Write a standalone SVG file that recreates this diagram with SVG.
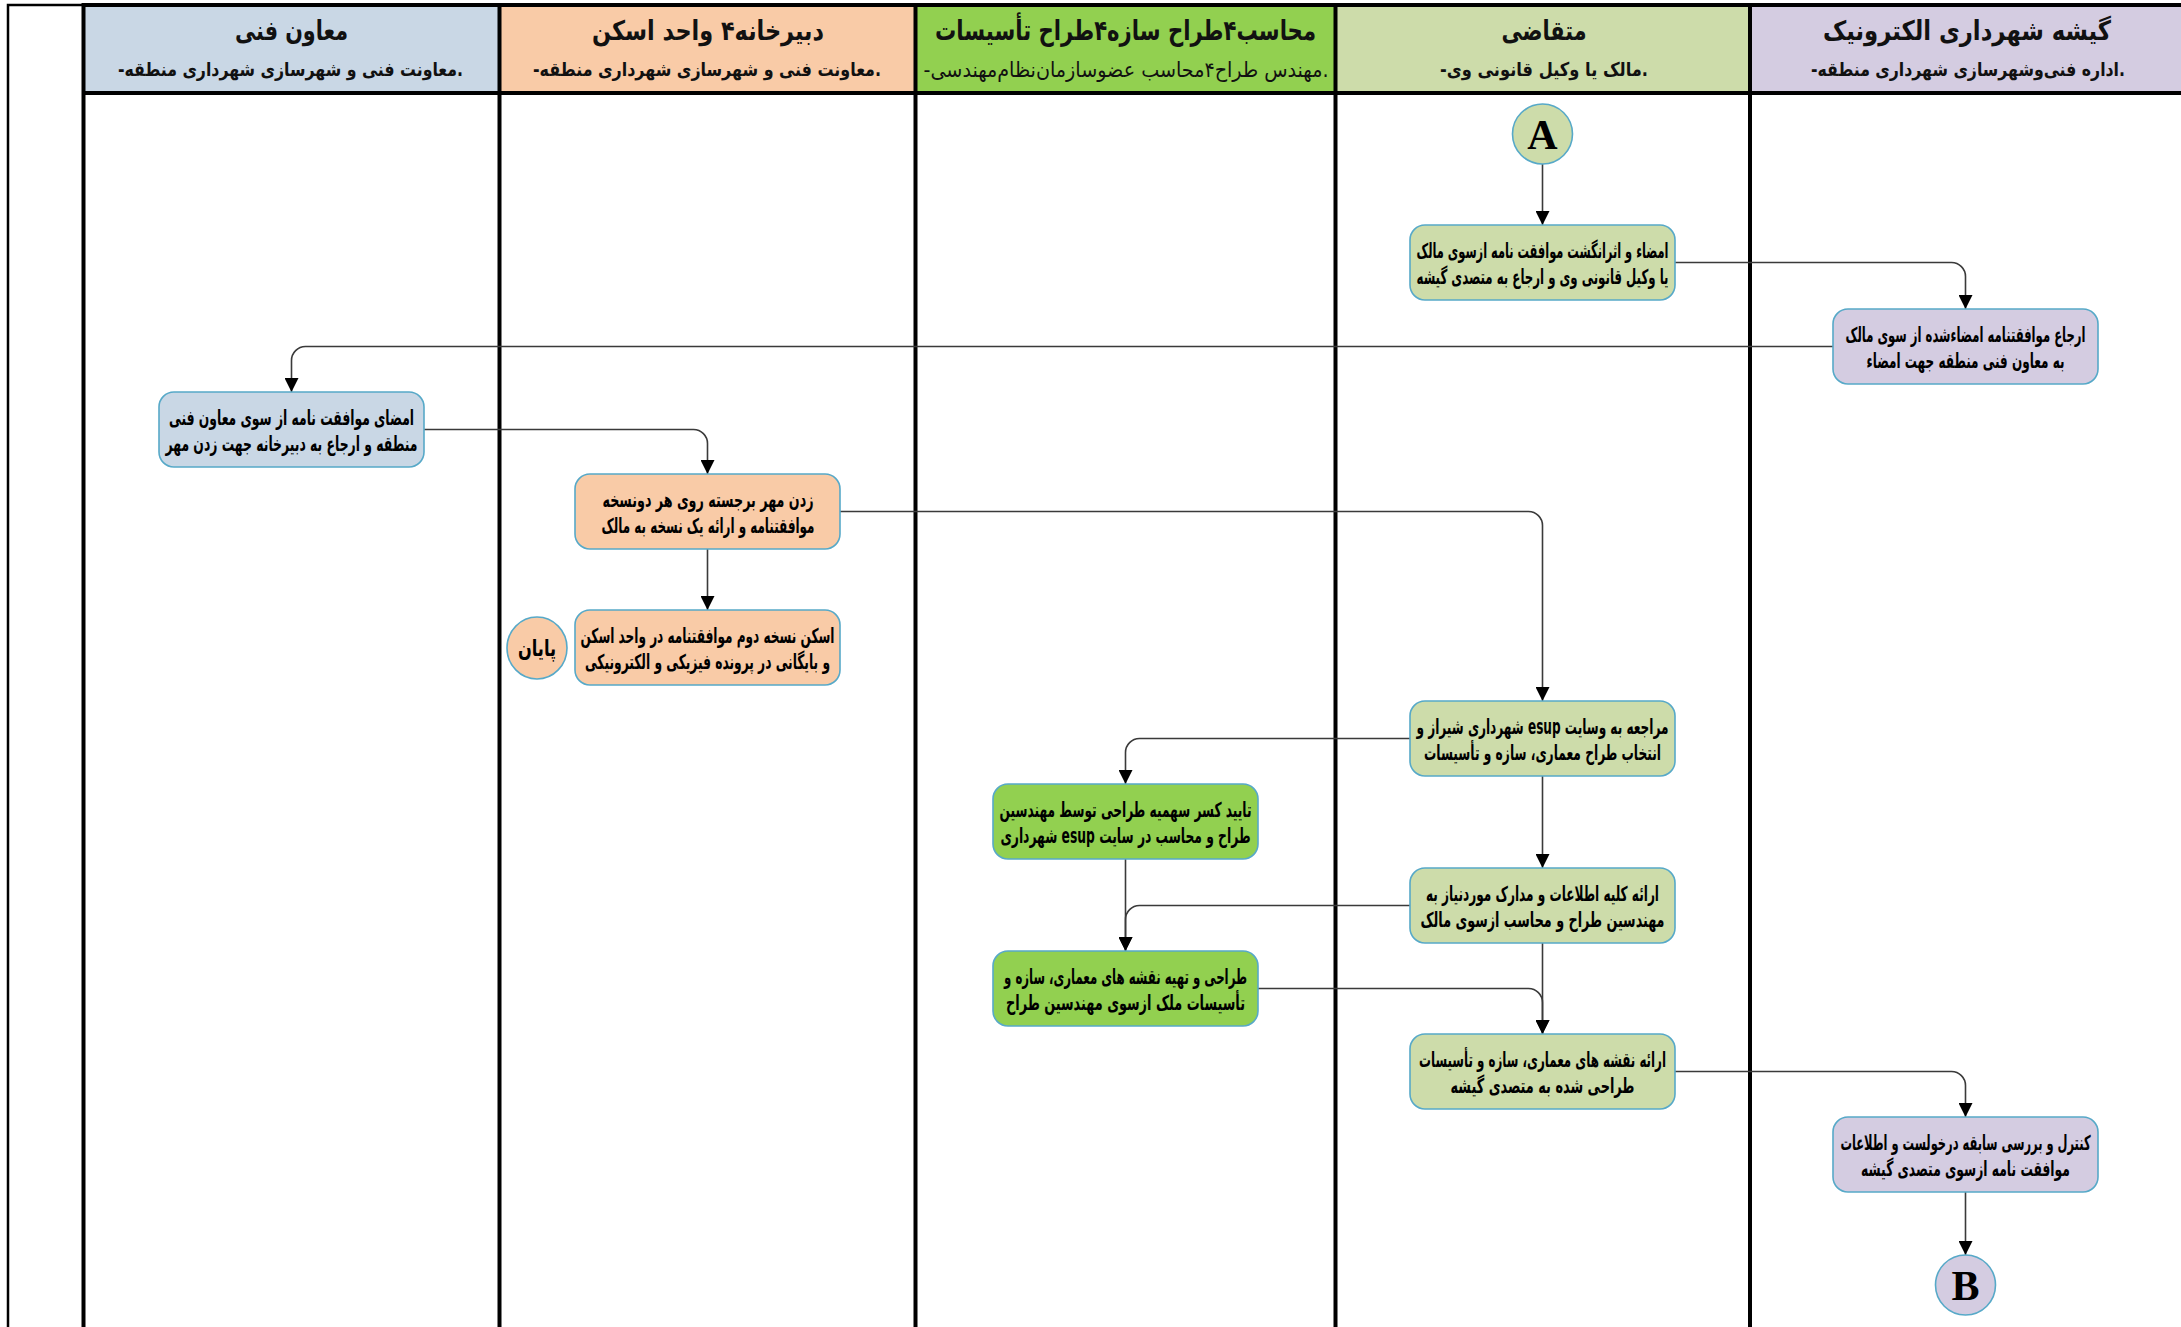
<svg xmlns="http://www.w3.org/2000/svg" width="2181" height="1327" viewBox="0 0 2181 1327">
<style>
.bg{fill:#ffffff}
.h1{fill:#C9D7E5}.h2{fill:#F9CBA7}.h3{fill:#92D050}.h4{fill:#CDDCAA}.h5{fill:#D4CCE1}
.div{stroke:#000;stroke-width:4;fill:none}
.thin{stroke:#000;stroke-width:2.5;fill:none}
.ttl{font-family:"DejaVu Sans Condensed","DejaVu Sans",sans-serif;font-weight:bold;font-size:27px;fill:#111;text-anchor:middle;direction:rtl}
.sub{font-family:"DejaVu Sans Condensed","DejaVu Sans",sans-serif;font-weight:bold;font-size:19px;fill:#111;text-anchor:middle;direction:rtl}
.ttl3{font-family:"DejaVu Sans","Noto Sans",sans-serif;font-weight:bold;font-size:28px;fill:#111;text-anchor:middle;direction:rtl}
.sub3{font-family:"DejaVu Sans","Noto Sans",sans-serif;font-weight:normal;font-size:21px;fill:#111;text-anchor:middle;direction:rtl}
.box{stroke:#57A9C8;stroke-width:1.6}
.t{font-family:"DejaVu Sans Condensed","DejaVu Sans",sans-serif;font-weight:bold;font-size:20.5px;fill:#000;text-anchor:middle;direction:rtl}
.end{font-family:"DejaVu Sans Condensed","DejaVu Sans",sans-serif;font-weight:bold;font-size:23px;fill:#000;text-anchor:middle;direction:rtl}
.big{font-family:"Liberation Serif",serif;font-weight:bold;font-size:42px;fill:#000;text-anchor:middle}
.con{fill:none;stroke:#3a3a3a;stroke-width:1.6;marker-end:url(#arr)}
</style>
<defs>
<marker id="arr" markerUnits="userSpaceOnUse" markerWidth="14" markerHeight="14" refX="14" refY="7" orient="auto">
<path d="M0,0 L14,7 L0,14 z" fill="#000"/>
</marker>
</defs>
<rect class="bg" x="0" y="0" width="2181" height="1327"/>
<g id="lanes">
<rect class="h1" x="83.5" y="5" width="416" height="88"/>
<rect class="h2" x="499.5" y="5" width="416" height="88"/>
<rect class="h3" x="915.5" y="5" width="420" height="88"/>
<rect class="h4" x="1335.5" y="5" width="414.5" height="88"/>
<rect class="h5" x="1750" y="5" width="431" height="88"/>
<path class="thin" d="M8,1327 V5 H83.5"/>
<path class="div" d="M83.5,5 H2181 M83.5,93 H2181"/>
<path class="div" d="M83.5,3 V1327 M499.5,3 V1327 M915.5,3 V1327 M1335.5,3 V1327 M1750,3 V1327"/>
<text class="ttl" x="291.5" y="40" textLength="113" lengthAdjust="spacingAndGlyphs">معاون فنی</text>
<text class="sub" x="290.5" y="76" textLength="345" lengthAdjust="spacingAndGlyphs">.معاونت فنی و شهرسازی شهرداری منطقه-</text>
<text class="ttl" x="708" y="40" textLength="232" lengthAdjust="spacingAndGlyphs">دبیرخانه۴ واحد اسکن</text>
<text class="sub" x="707" y="76" textLength="348" lengthAdjust="spacingAndGlyphs">.معاونت فنی و شهرسازی شهرداری منطقه-</text>
<text class="ttl3" x="1125.5" y="40" textLength="381" lengthAdjust="spacingAndGlyphs">محاسب۴طراح سازه۴طراح تأسیسات</text>
<text class="sub3" x="1126" y="77" textLength="405" lengthAdjust="spacingAndGlyphs">.مهندس طراح۴محاسب عضوسازمان‌نظام‌مهندسی-</text>
<text class="ttl" x="1544" y="40" textLength="85" lengthAdjust="spacingAndGlyphs">متقاضی</text>
<text class="sub" x="1544" y="76" textLength="208" lengthAdjust="spacingAndGlyphs">.مالک یا وکیل قانونی وی-</text>
<text class="ttl" x="1967" y="40" textLength="288" lengthAdjust="spacingAndGlyphs">گیشه شهرداری الکترونیک</text>
<text class="sub" x="1968" y="76" textLength="314" lengthAdjust="spacingAndGlyphs">.اداره فنی‌وشهرسازی شهرداری منطقه-</text>
</g>
<g id="connectors">
<path class="con" d="M1542.5,164 V225"/>
<path class="con" d="M1675,262.5 H1951.5 A14,14 0 0 1 1965.5,276.5 V309"/>
<path class="con" d="M1833,346.5 H305.5 A14,14 0 0 0 291.5,360.5 V392"/>
<path class="con" d="M424,429.5 H693.5 A14,14 0 0 1 707.5,443.5 V474"/>
<path class="con" d="M707.5,549 V610"/>
<path class="con" d="M840,511.5 H1528.5 A14,14 0 0 1 1542.5,525.5 V701"/>
<path class="con" d="M1410,738.5 H1139.5 A14,14 0 0 0 1125.5,752.5 V784"/>
<path class="con" d="M1542.5,776 V868"/>
<path class="con" d="M1125.5,859 V951"/>
<path class="con" d="M1410,905.5 H1139.5 A14,14 0 0 0 1125.5,919.5 V951"/>
<path class="con" d="M1542.5,943 V1034"/>
<path class="con" d="M1258,988.5 H1528.5 A14,14 0 0 1 1542.5,1002.5 V1034"/>
<path class="con" d="M1675,1071.5 H1951.5 A14,14 0 0 1 1965.5,1085.5 V1117"/>
<path class="con" d="M1965.5,1192 V1255"/>
</g>
<g id="nodeA">
<ellipse class="box h4" cx="1542.5" cy="134" rx="30" ry="30"/>
<text class="big" x="1542.5" y="149">A</text>
</g>
<g id="n1">
<rect class="box h4" x="1410" y="225" width="265" height="75" rx="15"/>
<text class="t" x="1542.5" y="257.5" textLength="252" lengthAdjust="spacingAndGlyphs">امضاء و اثرانگشت موافقت نامه ازسوی مالک</text>
<text class="t" x="1542.5" y="284" textLength="252" lengthAdjust="spacingAndGlyphs">یا وکیل قانونی وی و ارجاع به متصدی گیشه</text>
</g>
<g id="n2">
<rect class="box h5" x="1833" y="309" width="265" height="75" rx="15"/>
<text class="t" transform="translate(1965.5,341.5) scale(0.6,1)" x="0" y="0" textLength="400" lengthAdjust="spacingAndGlyphs">ارجاع موافقتنامه امضاءشده از سوی مالک</text>
<text class="t" transform="translate(1965.5,368) scale(0.6,1)" x="0" y="0" textLength="330" lengthAdjust="spacingAndGlyphs">به معاون فنی منطقه جهت امضاء</text>
</g>
<g id="n3">
<rect class="box h1" x="159" y="392" width="265" height="75" rx="15"/>
<text class="t" x="291.5" y="424.5" textLength="245" lengthAdjust="spacingAndGlyphs">امضای موافقت نامه از سوی معاون فنی</text>
<text class="t" x="291.5" y="451" textLength="252" lengthAdjust="spacingAndGlyphs">منطقه و ارجاع به دبیرخانه جهت زدن مهر</text>
</g>
<g id="n4">
<rect class="box h2" x="575" y="474" width="265" height="75" rx="15"/>
<text class="t" x="708" y="506.5" textLength="211" lengthAdjust="spacingAndGlyphs">زدن مهر برجسته روی هر دونسخه</text>
<text class="t" x="708" y="533" textLength="213" lengthAdjust="spacingAndGlyphs">موافقتنامه و ارائه یک نسخه به مالک</text>
</g>
<g id="n5">
<rect class="box h2" x="575" y="610" width="265" height="75" rx="15"/>
<text class="t" x="707.5" y="642.5" textLength="254" lengthAdjust="spacingAndGlyphs">اسکن نسخه دوم موافقتنامه در واحد اسکن</text>
<text class="t" x="707.5" y="669" textLength="245" lengthAdjust="spacingAndGlyphs">و بایگانی در پرونده فیزیکی و الکترونیکی</text>
</g>
<g id="nEnd">
<ellipse class="box h2" cx="537" cy="648" rx="30" ry="31"/>
<text class="end" x="537" y="656" textLength="38" lengthAdjust="spacingAndGlyphs">پایان</text>
</g>
<g id="n6">
<rect class="box h4" x="1410" y="701" width="265" height="75" rx="15"/>
<text class="t" x="1542.5" y="733.5" textLength="252" lengthAdjust="spacingAndGlyphs">مراجعه به وسایت esup شهرداری شیراز و</text>
<text class="t" x="1542.5" y="760" textLength="237" lengthAdjust="spacingAndGlyphs">انتخاب طراح معماری، سازه و تأسیسات</text>
</g>
<g id="n7">
<rect class="box h3" x="993" y="784" width="265" height="75" rx="15"/>
<text class="t" x="1125.5" y="816.5" textLength="252" lengthAdjust="spacingAndGlyphs">تایید کسر سهمیه طراحی توسط مهندسین</text>
<text class="t" x="1125.5" y="843" textLength="250" lengthAdjust="spacingAndGlyphs">طراح و محاسب در سایت esup شهرداری</text>
</g>
<g id="n8">
<rect class="box h4" x="1410" y="868" width="265" height="75" rx="15"/>
<text class="t" x="1542.5" y="900.5" textLength="233" lengthAdjust="spacingAndGlyphs">ارائه کلیه اطلاعات و مدارک موردنیاز به</text>
<text class="t" x="1542.5" y="927" textLength="244" lengthAdjust="spacingAndGlyphs">مهندسین طراح و محاسب ازسوی مالک</text>
</g>
<g id="n9">
<rect class="box h3" x="993" y="951" width="265" height="75" rx="15"/>
<text class="t" x="1125.5" y="983.5" textLength="243" lengthAdjust="spacingAndGlyphs">طراحی و تهیه نقشه های معماری، سازه و</text>
<text class="t" x="1125.5" y="1010" textLength="239" lengthAdjust="spacingAndGlyphs">تأسیسات ملک ازسوی مهندسین طراح</text>
</g>
<g id="n10">
<rect class="box h4" x="1410" y="1034" width="265" height="75" rx="15"/>
<text class="t" x="1542.5" y="1066.5" textLength="247" lengthAdjust="spacingAndGlyphs">ارائه نقشه های معماری، سازه و تأسیسات</text>
<text class="t" x="1542.5" y="1093" textLength="184" lengthAdjust="spacingAndGlyphs">طراحی شده به متصدی گیشه</text>
</g>
<g id="n11">
<rect class="box h5" x="1833" y="1117" width="265" height="75" rx="15"/>
<text class="t" transform="translate(1965.5,1149.5) scale(0.6,1)" x="0" y="0" textLength="417" lengthAdjust="spacingAndGlyphs">کنترل و بررسی سابقه درخولست و اطلاعات</text>
<text class="t" transform="translate(1965.5,1176) scale(0.6,1)" x="0" y="0" textLength="348" lengthAdjust="spacingAndGlyphs">موافقت نامه ازسوی متصدی گیشه</text>
</g>
<g id="nodeB">
<ellipse class="box h5" cx="1965.5" cy="1285" rx="30" ry="30"/>
<text class="big" x="1965.5" y="1300">B</text>
</g>
</svg>
